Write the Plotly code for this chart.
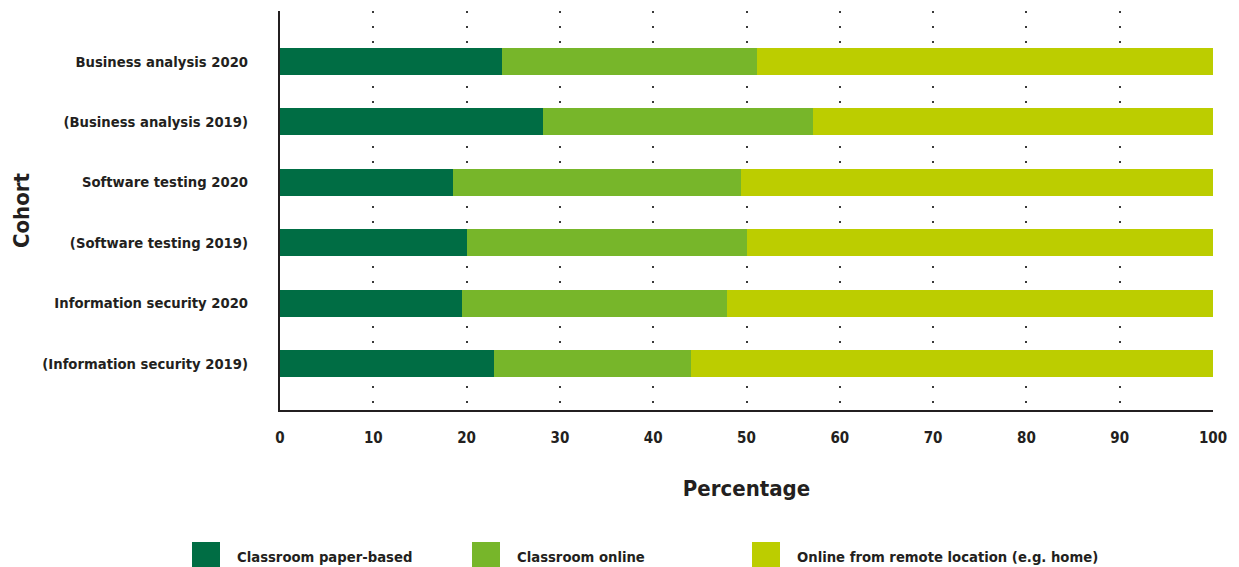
import plotly.graph_objects as go

# ---- data (top of chart first) ----
cohorts = [
    "Business analysis 2020",
    "(Business analysis 2019)",
    "Software testing 2020",
    "(Software testing 2019)",
    "Information security 2020",
    "(Information security 2019)",
]
series_names = [
    "Classroom paper-based",
    "Classroom online",
    "Online from remote location (e.g. home)",
]
paper_based = [23.8, 28.2, 18.5, 20.0, 19.5, 22.9]
classroom_online = [27.3, 28.9, 30.9, 30.0, 28.4, 21.2]
remote = [48.9, 42.9, 50.6, 50.0, 52.1, 55.9]
x_ticks = [0, 10, 20, 30, 40, 50, 60, 70, 80, 90, 100]

colors = ["#006d44", "#77b62a", "#bccd00"]
TEXT = "#231f20"
FONT = "DejaVu Sans Condensed"

fig = go.Figure()
for name, vals, col in zip(series_names, [paper_based, classroom_online, remote], colors):
    fig.add_trace(go.Bar(
        y=cohorts, x=vals, name=name, orientation="h",
        marker=dict(color=col, line=dict(width=0)),
        width=0.447, showlegend=False,
    ))

# manual legend (large square swatches)
W, H = 1239, 567
L, R, T, B = 280, 26, 11, 157
pw, ph = W - L - R, H - T - B
def px2x(px): return (px - L) / pw
def py2y(py): return (H - B - py) / ph

legend_sq_x = [192, 472, 752]
for i, (name, col) in enumerate(zip(series_names, colors)):
    x0 = legend_sq_x[i]
    fig.add_shape(type="rect", xref="paper", yref="paper",
                  x0=px2x(x0), x1=px2x(x0 + 28), y0=py2y(568), y1=py2y(542),
                  fillcolor=col, line=dict(width=0), layer="above")
    fig.add_annotation(xref="paper", yref="paper", x=px2x(x0 + 43), y=py2y(556),
                       text="<b>%s</b>" % name, showarrow=False, xanchor="left",
                       yanchor="middle", font=dict(family=FONT, size=14.7, color=TEXT))

fig.update_layout(
    barmode="stack",
    width=W, height=H,
    margin=dict(l=L, r=R, t=T, b=B, pad=0),
    paper_bgcolor="white", plot_bgcolor="white",
    font=dict(family=FONT, color=TEXT, size=15),
    bargap=0,
)
fig.update_xaxes(
    range=[0, 100], tickvals=x_ticks, ticktext=["<b>%d</b>" % v for v in x_ticks],
    showgrid=True, gridcolor="#3a3a3a", gridwidth=2, griddash="2px,13px",
    zeroline=False, showline=True, linecolor=TEXT, linewidth=2, automargin=False,
    ticks="", ticklabelstandoff=13, tickfont=dict(size=15, family=FONT, color=TEXT),
    title=dict(text="<b>Percentage</b>", font=dict(size=22, family=FONT, color=TEXT), standoff=35),
)
fig.update_yaxes(
    categoryorder="array", categoryarray=cohorts[::-1],
    range=[-0.77, 5.836], automargin=False,
    tickvals=cohorts, ticktext=["<b>%s</b>" % c for c in cohorts],
    showgrid=False, zeroline=False, showline=True, linecolor=TEXT, linewidth=2,
    ticks="", ticklabelstandoff=27, tickfont=dict(size=14.7, family=FONT, color=TEXT),
    title=dict(text="<b>Cohort</b>", font=dict(size=22, family=FONT, color=TEXT), standoff=7),
)

fig.write_html("out.html", config={"displayModeBar": False},
               post_script="document.body.style.margin='0';document.body.style.overflow='hidden';")
